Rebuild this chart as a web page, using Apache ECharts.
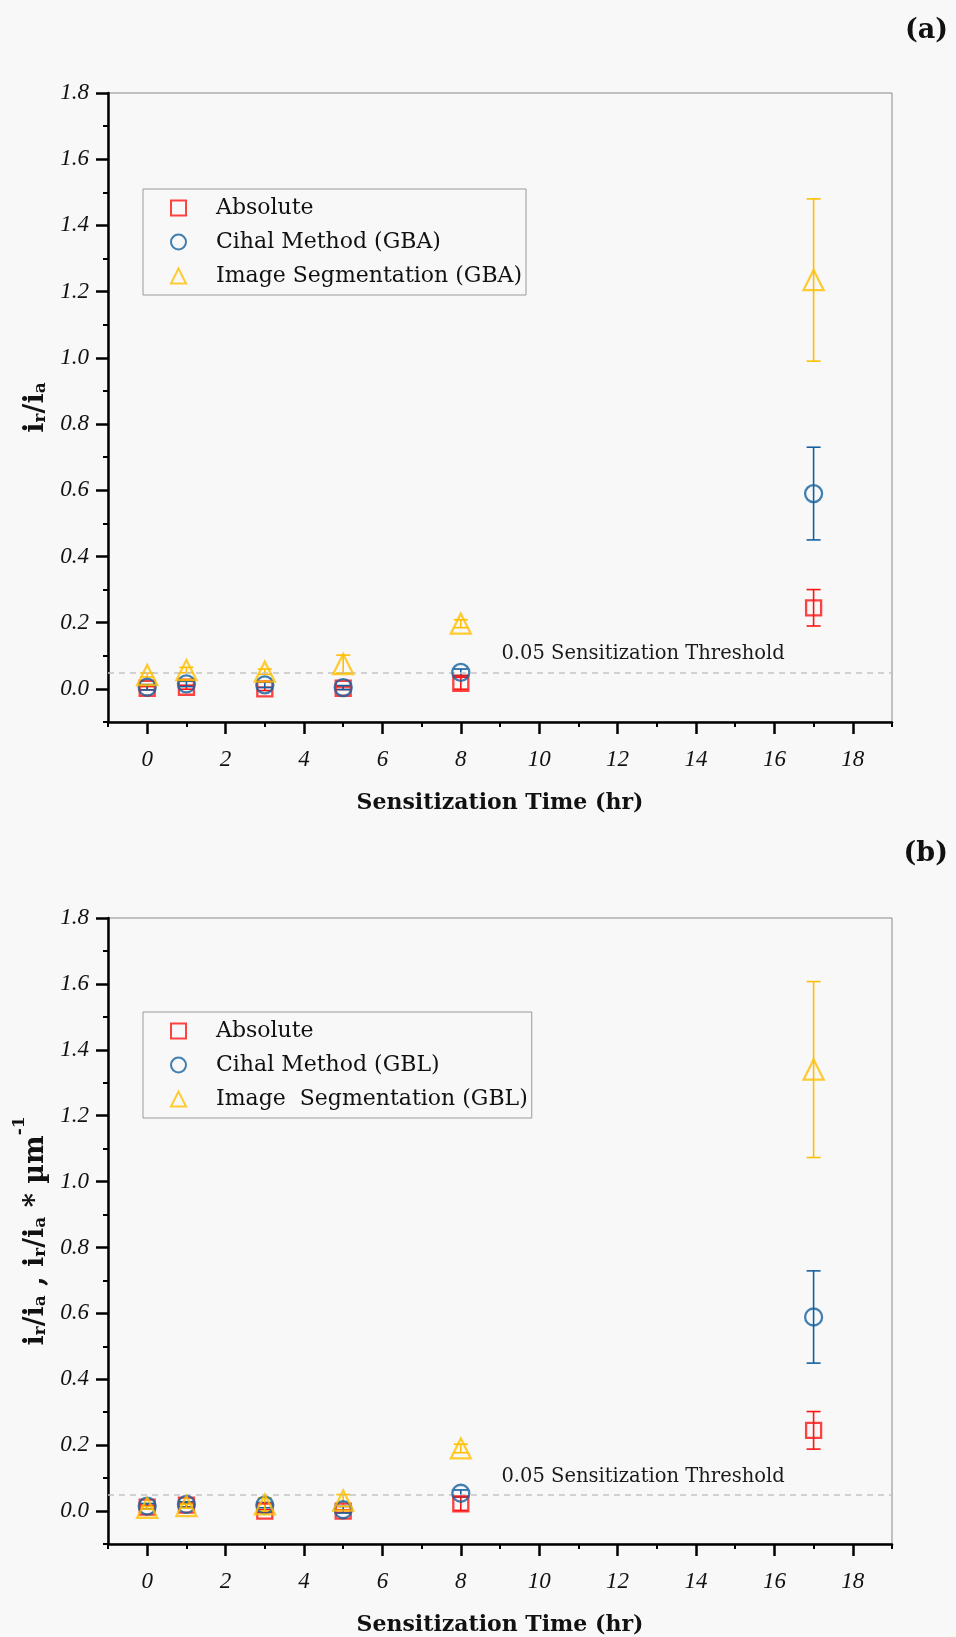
<!DOCTYPE html>
<html>
<head>
<meta charset="utf-8">
<script src="https://cdn.jsdelivr.net/npm/echarts@6/dist/echarts.min.js"></script>
<style>
html, body { margin: 0; padding: 0; background: #f8f8f8; }
#main { width: 956px; height: 1637px; }
</style>
</head>
<body>
<div id="main"></div>
<script>
// sensitization times (hr)
var hours = [0, 1, 3, 5, 8, 17];

// panel (a)
var absoluteA = [0.002, 0.005, 0.0, 0.002, 0.017, 0.245];
var absoluteAErr = [0.005, 0.006, 0.005, 0.004, 0.018, 0.055];
var cihalA = [0.005, 0.015, 0.012, 0.004, 0.05, 0.59];
var cihalAErr = [0.008, 0.008, 0.008, 0.006, 0.01, 0.14];
var segA = [0.042, 0.057, 0.052, 0.075, 0.197, 1.235];
var segAErr = [0.006, 0.008, 0.008, 0.027, 0.012, 0.245];

// panel (b)
var absoluteB = [0.012, 0.018, 0.0, 0.0, 0.022, 0.245];
var absoluteBErr = [0.006, 0.006, 0.004, 0.004, 0.02, 0.057];
var cihalB = [0.015, 0.02, 0.018, 0.004, 0.054, 0.589];
var cihalBErr = [0.008, 0.008, 0.008, 0.01, 0.01, 0.14];
var segB = [0.01, 0.015, 0.02, 0.032, 0.19, 1.34];
var segBErr = [0.004, 0.006, 0.02, 0.018, 0.013, 0.267];

var threshold = 0.05;

// ticks
var xTicks = [0, 2, 4, 6, 8, 10, 12, 14, 16, 18];
var xMinorTicks = [-1, 1, 3, 5, 7, 9, 11, 13, 15, 17, 19];
var yTicks = [0, 0.2, 0.4, 0.6, 0.8, 1.0, 1.2, 1.4, 1.6, 1.8];
var yMinorTicks = [-0.1, 0.1, 0.3, 0.5, 0.7, 0.9, 1.1, 1.3, 1.5, 1.7];

var RED = '#ff1414', BLUE = '#14609f', YELLOW = '#ffbf00';
var serif = '"DejaVu Serif"';

var myChart = echarts.init(document.getElementById('main'));

function pts(values) {
	return hours.map(function (h, i) { return [h, values[i]]; });
}

function bars(values, errs) {
	return hours.map(function (h, i) { return [h, values[i] - errs[i], values[i] + errs[i]]; });
}

function scatter(name, g, values, symbol, size, color) {
	return {
		name: name,
		type: 'scatter',
		xAxisIndex: g * 2,
		yAxisIndex: g * 2,
		symbol: symbol,
		symbolSize: size,
		z: 5,
		itemStyle: { color: 'transparent', borderColor: color, borderWidth: 2.3 },
		emphasis: { disabled: true },
		data: pts(values)
	};
}

function errorBars(g, values, errs, color) {
	return {
		type: 'custom',
		xAxisIndex: g * 2,
		yAxisIndex: g * 2,
		z: 4,
		silent: true,
		encode: { x: 0, y: [1, 2] },
		renderItem: function (params, api) {
			var lo = api.coord([api.value(0), api.value(1)]);
			var hi = api.coord([api.value(0), api.value(2)]);
			var w = 7;
			var st = { stroke: color, lineWidth: 1.6 };
			return {
				type: 'group',
				children: [
					{ type: 'line', shape: { x1: hi[0], y1: hi[1], x2: lo[0], y2: lo[1] }, style: st },
					{ type: 'line', shape: { x1: hi[0] - w, y1: hi[1], x2: hi[0] + w, y2: hi[1] }, style: st },
					{ type: 'line', shape: { x1: lo[0] - w, y1: lo[1], x2: lo[0] + w, y2: lo[1] }, style: st }
				]
			};
		},
		data: bars(values, errs)
	};
}

function thresholdLine(g) {
	return {
		type: 'scatter',
		xAxisIndex: g * 2,
		yAxisIndex: g * 2,
		data: [],
		silent: true,
		markLine: {
			silent: true,
			symbol: 'none',
			label: { show: false },
			lineStyle: { type: [6, 5], color: '#c4c4c4', width: 1.5 },
			data: [{ yAxis: threshold }]
		},
		markPoint: {
			silent: true,
			symbol: 'circle',
			symbolSize: 0,
			label: {
				show: true,
				formatter: '0.05 Sensitization Threshold',
				fontFamily: serif,
				fontSize: 19.5,
				color: '#1a1a1a'
			},
			data: [{ coord: [12.65, 0.105] }]
		}
	};
}

var grids = [
	{ left: 108, top: 93, width: 784, height: 629 },
	{ left: 108, top: 918, width: 784, height: 629 }
];

var xAxes = [], yAxes = [];
[0, 1].forEach(function (g) {
	xAxes.push({
		gridIndex: g,
		type: 'value',
		min: -1,
		max: 19,
		position: 'bottom',
		name: 'Sensitization Time (hr)',
		nameLocation: 'middle',
		nameGap: 70,
		nameTextStyle: { fontFamily: serif, fontWeight: 'bold', fontSize: 22, color: '#111' },
		axisLine: { onZero: false, lineStyle: { color: '#000', width: 2.5 } },
		axisTick: { customValues: xTicks, length: 12, lineStyle: { color: '#000', width: 2.5 } },
		axisLabel: {
			customValues: xTicks,
			margin: 26,
			fontFamily: '"Liberation Serif"',
			fontStyle: 'italic',
			fontSize: 23,
			color: '#111'
		},
		splitLine: { show: false }
	});
	xAxes.push({
		gridIndex: g,
		type: 'value',
		min: -1,
		max: 19,
		position: 'bottom',
		axisLine: { show: false, onZero: false },
		axisTick: { customValues: xMinorTicks, length: 5, lineStyle: { color: '#000', width: 2 } },
		axisLabel: { show: false },
		splitLine: { show: false }
	});
	yAxes.push({
		gridIndex: g,
		type: 'value',
		min: -0.1,
		max: 1.8,
		position: 'left',
		nameLocation: 'middle',
		nameRotate: 90,
		nameGap: 47,
		axisLine: { onZero: false, lineStyle: { color: '#000', width: 2.5 } },
		axisTick: { customValues: yTicks, length: 12, lineStyle: { color: '#000', width: 2.5 } },
		axisLabel: {
			customValues: yTicks,
			margin: 19,
			fontFamily: '"Liberation Serif"',
			fontStyle: 'italic',
			fontSize: 23,
			color: '#111',
			formatter: function (v) { return v.toFixed(1); }
		},
		splitLine: { show: false }
	});
	yAxes.push({
		gridIndex: g,
		type: 'value',
		min: -0.1,
		max: 1.8,
		position: 'left',
		axisLine: { show: false, onZero: false },
		axisTick: { customValues: yMinorTicks, length: 5, lineStyle: { color: '#000', width: 2 } },
		axisLabel: { show: false },
		splitLine: { show: false }
	});
});

var nameRich = {
	b: { fontFamily: serif, fontWeight: 'bold', fontSize: 27, color: '#111', verticalAlign: 'bottom', lineHeight: 29 },
	s: { fontFamily: serif, fontWeight: 'bold', fontSize: 17, color: '#111', verticalAlign: 'bottom', lineHeight: 24 },
	p: { fontFamily: serif, fontWeight: 'bold', fontSize: 17, color: '#111', verticalAlign: 'top', lineHeight: 38 }
};
yAxes[0].name = '{b|i}{s|r}{b|/i}{s|a}';
yAxes[0].nameTextStyle = { rich: nameRich };
yAxes[2].name = '{b|i}{s|r}{b|/i}{s|a}{b| , i}{s|r}{b|/i}{s|a}{b| * µm}{p|-1}';
yAxes[2].nameTextStyle = { rich: nameRich };

function legendFor(g, names) {
	return {
		orient: 'vertical',
		left: 143,
		top: g === 0 ? 189 : 1012,
		padding: [8, 4, 8, 27],
		itemWidth: 15,
		itemHeight: 15,
		itemGap: 12,
		borderColor: '#9a9a9a',
		borderWidth: 1,
		selectedMode: false,
		formatter: function (name) { return '{sp| }' + name; },
		textStyle: {
			fontFamily: serif,
			fontSize: 22,
			color: '#111',
			rich: { sp: { width: 25 } }
		},
		data: names
	};
}

myChart.setOption({
	backgroundColor: '#f8f8f8',
	animation: false,
	grid: grids.map(function (gr) {
		return Object.assign({ show: true, borderColor: '#8a8a8a', borderWidth: 1, backgroundColor: 'transparent' }, gr);
	}),
	xAxis: xAxes,
	yAxis: yAxes,
	legend: [
		legendFor(0, ['Absolute', 'Cihal Method (GBA)', 'Image Segmentation (GBA)']),
		legendFor(1, ['Absolute', 'Cihal Method (GBL)', 'Image  Segmentation (GBL)'])
	],
	graphic: [
		{ type: 'text', right: 8, top: 17, style: { text: '(a)', font: 'bold 27px "DejaVu Serif"', fill: '#111' } },
		{ type: 'text', right: 8, top: 840, style: { text: '(b)', font: 'bold 27px "DejaVu Serif"', fill: '#111' } }
	],
	series: [
		thresholdLine(0),
		errorBars(0, absoluteA, absoluteAErr, RED),
		errorBars(0, cihalA, cihalAErr, BLUE),
		errorBars(0, segA, segAErr, YELLOW),
		scatter('Absolute', 0, absoluteA, 'rect', 15, RED),
		scatter('Cihal Method (GBA)', 0, cihalA, 'circle', 17, BLUE),
		scatter('Image Segmentation (GBA)', 0, segA, 'triangle', 20, YELLOW),

		thresholdLine(1),
		errorBars(1, absoluteB, absoluteBErr, RED),
		errorBars(1, cihalB, cihalBErr, BLUE),
		errorBars(1, segB, segBErr, YELLOW),
		scatter('Absolute', 1, absoluteB, 'rect', 15, RED),
		scatter('Cihal Method (GBL)', 1, cihalB, 'circle', 17, BLUE),
		scatter('Image  Segmentation (GBL)', 1, segB, 'triangle', 20, YELLOW)
	]
});
</script>
</body>
</html>
